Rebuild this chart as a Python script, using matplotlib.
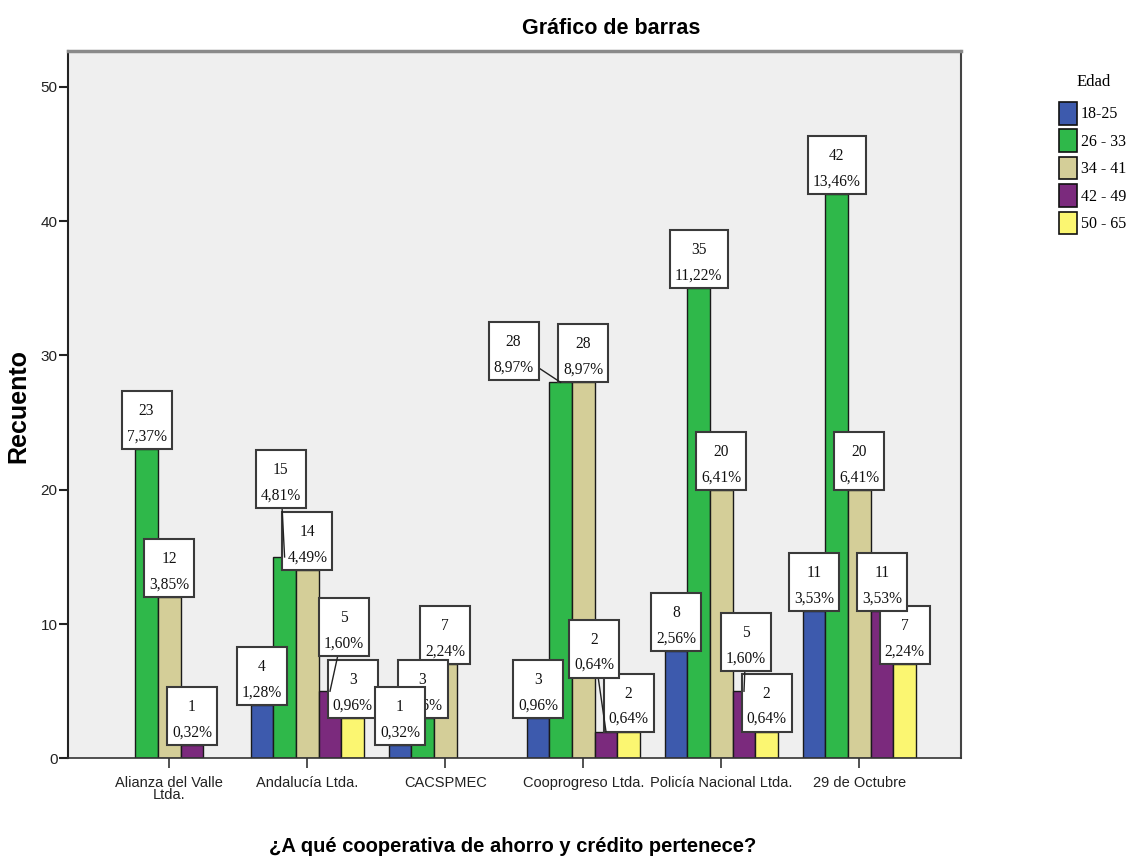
import numpy as np
import matplotlib
matplotlib.use('Agg')
import matplotlib.pyplot as plt
from matplotlib import font_manager as fm
from matplotlib.patches import Rectangle, Patch
from matplotlib.transforms import ScaledTranslation

# datos: recuento de socios por cooperativa y grupo de edad
cooperativas = ['Alianza del Valle\nLtda.', 'Andalucía Ltda.', 'CACSPMEC',
                'Cooprogreso Ltda.', 'Policía Nacional Ltda.', '29 de Octubre']
edades = ['18-25', '26 - 33', '34 - 41', '42 - 49', '50 - 65']
c_18_25 = [0, 4, 1, 3, 8, 11]
c_26_33 = [23, 15, 3, 28, 35, 42]
c_34_41 = [12, 14, 7, 28, 20, 20]
c_42_49 = [1, 5, 0, 2, 5, 11]
c_50_65 = [0, 3, 0, 2, 2, 7]
y_ticks = [0, 10, 20, 30, 40, 50]

colores = ['#3d5aad', '#2fb84a', '#d4ce98', '#7b2a7d', '#fbf671']
# etiquetas que se corrieron para no taparse (px)
mover = {(1, 1): (-4, 49), (1, 3): (14, 35), (3, 1): (-47, 2),
         (3, 3): (-12, 54), (4, 3): (2, 20)}

nombres = {f.name for f in fm.fontManager.ttflist}
NARROW = 'Liberation Sans Narrow' in nombres
SANS = 'Liberation Sans Narrow' if NARROW else 'Liberation Sans'
SERIF = 'Liberation Serif'
if NARROW:
    fs_tick, fs_xt, fs_title, fs_xlab = 12, 12.5, 19, 17.5
else:
    fs_tick, fs_xt, fs_title, fs_xlab = 11, 10.5, 15.5, 14.5

series = [c_18_25, c_26_33, c_34_41, c_42_49, c_50_65]
total = sum(sum(s) for s in series)

fig = plt.figure(figsize=(11.3, 8.59), dpi=100)
ax = fig.add_axes([68/1130, 100.6/859, 893/1130, 707.4/859])
ax.set_facecolor('#efefef')

w = 0.1645
x = np.arange(len(cooperativas))
for j, s in enumerate(series):
    vals = np.array(s, dtype=float)
    m = vals > 0
    ax.bar(x[m] + (j - 2)*w, vals[m], w, color=colores[j],
           edgecolor='#1a1a1a', linewidth=1, zorder=2)


def etiqueta(xc, h, v, dx, dy, z):
    tr = ScaledTranslation(xc, h, ax.transData)
    pct = f'{v/total*100:.2f}%'.replace('.', ',')
    bw = 50 if len(pct) <= 5 else 58
    bh = 58
    if dx or dy:
        ax.plot([0, dx], [0, dy + bh/2], color='#222', lw=1, transform=tr,
                zorder=z, clip_on=False)
    ax.add_patch(Rectangle((dx - bw/2, dy), bw, bh, transform=tr, fc='white',
                           ec='#3a3a3a', lw=1.5, zorder=z + 0.1, clip_on=False))
    ax.text(dx, dy + 34, str(v), transform=tr, ha='center', va='baseline',
            fontsize=11.2, family=SERIF, color='#111', zorder=z + 0.2, clip_on=False)
    ax.text(dx, dy + 8.5, pct, transform=tr, ha='center', va='baseline',
            fontsize=11.2, family=SERIF, color='#111', zorder=z + 0.2, clip_on=False)


z = 5
for i in range(len(cooperativas)):
    for j in reversed(range(len(series))):
        v = series[j][i]
        if v == 0:
            continue
        dx, dy = mover.get((i, j), (0, 0))
        etiqueta(x[i] + (j - 2)*w, v, v, dx, dy, z)
        z += 1

ax.set_xlim(-0.734, 5.737)
ax.set_ylim(0, 52.67)
ax.set_xticks(x)
ax.set_xticklabels(cooperativas, fontsize=fs_xt, family=SANS, color='#222',
                   linespacing=0.85)
ax.set_yticks(y_ticks)
ax.set_yticklabels([str(t) for t in y_ticks], fontsize=fs_tick, family=SANS,
                   color='#222')
ax.tick_params(axis='y', length=6.5, width=1.5, pad=1, color='#222')
ax.tick_params(axis='x', length=7.5, width=1.2, pad=5, color='#333')

ax.spines['top'].set_color('#8a8a8a')
ax.spines['top'].set_linewidth(2.5)
ax.spines['left'].set_color('#222')
ax.spines['left'].set_linewidth(1.5)
ax.spines['right'].set_color('#444')
ax.spines['right'].set_linewidth(1.5)
ax.spines['bottom'].set_color('#333')
ax.spines['bottom'].set_linewidth(1.2)

fig.text(611/1130, 1 - 29/859, 'Gráfico de barras', family=SANS,
         fontweight='bold', fontsize=fs_title, ha='center', va='center')
fig.text(513/1130, 1 - 846/859, '¿A qué cooperativa de ahorro y crédito pertenece?',
         family=SANS, fontweight='bold', fontsize=fs_xlab, ha='center', va='center')
fig.text(18/1130, 1 - 406/859, 'Recuento', family='Liberation Sans',
         fontweight='bold', fontsize=18, rotation=90, ha='center', va='center')

handles = [Patch(fc=c, ec='#111', lw=1.2) for c in colores]
fig.legend(handles, edades, loc='upper left',
           bbox_to_anchor=(1059/1130, 1 - 102/859), frameon=False,
           prop={'family': SERIF, 'size': 11.5}, handlelength=1.15,
           handleheight=1.8, labelspacing=0.3, handletextpad=0.2,
           borderpad=0, borderaxespad=0)
fig.text(1094/1130, 1 - 82/859, 'Edad', family=SERIF, fontsize=12,
         ha='center', va='center')

fig.savefig('out.png', dpi=100)
